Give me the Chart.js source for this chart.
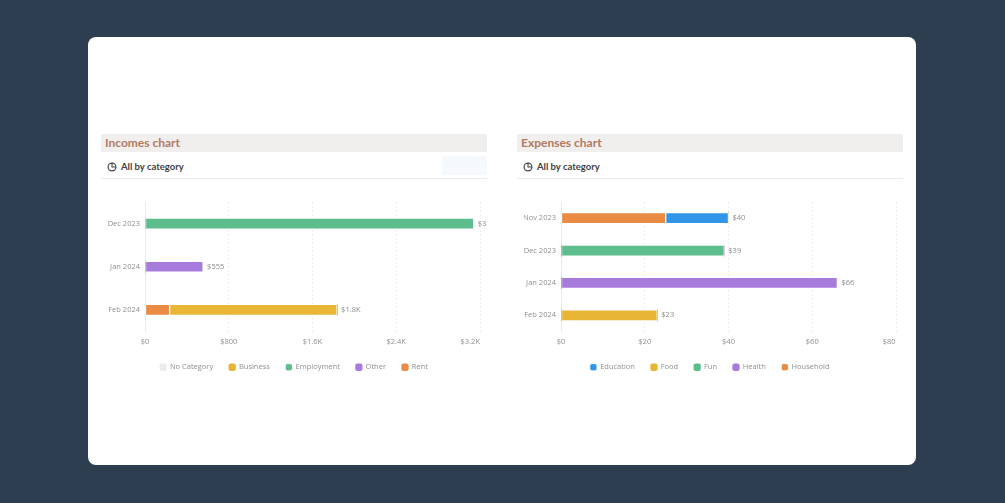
<!DOCTYPE html>
<html>
<head>
<meta charset="utf-8">
<script src="https://cdn.jsdelivr.net/npm/chart.js@4/dist/chart.umd.min.js"></script>
<style>
  body { margin: 0; width: 1005px; height: 503px; background: #2d3e50; overflow: hidden; font-family: "Open Sans", sans-serif; }
  .card { position: absolute; left: 88px; top: 37px; width: 828px; height: 428px; background: #fff; border-radius: 8px; }
  .panel { position: absolute; top: 134px; width: 386px; }
  .head { height: 18px; line-height: 18px; background: #f0efed; color: #b27a63; font-family: Lato, sans-serif; font-weight: 700; font-size: 12px; padding-left: 4px; }
  .sub { height: 23px; padding-top: 3px; border-bottom: 1px solid #ececec; display: flex; align-items: center; padding-left: 6px; font-family: Lato, sans-serif; font-size: 9.5px; font-weight: 700; color: #3f3f3f; }
  .sub svg { margin-right: 4px; }
  .ghost { position: absolute; right: 0; top: 22px; width: 45px; height: 19px; background: #f5f8fd; border-radius: 3px; }
  .chart { position: absolute; top: 191px; width: 386px; height: 190px; }
</style>
</head>
<body>
<div class="card"></div>

<div class="panel" style="left:101px">
  <div class="head">Incomes chart</div>
  <div class="sub">
    <svg width="10" height="10" viewBox="0 0 11 11"><circle cx="5.5" cy="5.5" r="4.3" fill="none" stroke="#444" stroke-width="1.3"/><path d="M5.5 1.5 V5.5 H9.5" fill="none" stroke="#444" stroke-width="1.2"/></svg>
    All by category
  </div>
  <div class="ghost"></div>
</div>
<div class="panel" style="left:517px">
  <div class="head">Expenses chart</div>
  <div class="sub">
    <svg width="10" height="10" viewBox="0 0 11 11"><circle cx="5.5" cy="5.5" r="4.3" fill="none" stroke="#444" stroke-width="1.3"/><path d="M5.5 1.5 V5.5 H9.5" fill="none" stroke="#444" stroke-width="1.2"/></svg>
    All by category
  </div>
</div>

<div class="chart" style="left:101px"><canvas id="incomes"></canvas></div>
<div class="chart" style="left:517px"><canvas id="expenses"></canvas></div>

<script>
// incomes by month
const incomeMonths = ['Dec 2023', 'Jan 2024', 'Feb 2024'];
const incomeNoCategory = [0, 0, 0];
const incomeBusiness = [0, 0, 1600];
const incomeEmployment = [3140, 0, 0];
const incomeOther = [0, 555, 0];
const incomeRent = [0, 0, 235];
const incomeTicks = [0, 800, 1600, 2400, 3200];

// expenses by month
const expenseMonths = ['Nov 2023', 'Dec 2023', 'Jan 2024', 'Feb 2024'];
const expenseEducation = [15, 0, 0, 0];
const expenseFood = [0, 0, 0, 23];
const expenseFun = [0, 39, 0, 0];
const expenseHealth = [0, 0, 66, 0];
const expenseHousehold = [25, 0, 0, 0];
const expenseTicks = [0, 20, 40, 60, 80];

const COLORS = {
  none: '#ececec', yellow: '#e8b535', green: '#5dbd8c',
  purple: '#a77bdc', orange: '#e98b43', blue: '#3196e8',
};
const FONT = { family: 'Open Sans', size: 7.5 };

const measure = document.createElement('canvas').getContext('2d');
measure.font = '7.5px "Open Sans"';

function money(v) {
  if (v >= 1000) return '$' + (v / 1000).toFixed(1) + 'K';
  return '$' + Math.round(v);
}

function ds(label, data, color, order) {
  return {
    label, data, order,
    backgroundColor: color,
    borderColor: '#fff',
    borderWidth: (ctx) => (ctx.raw ? 1 : 0),
    borderSkipped: false,
    barThickness: 11,
  };
}

// total at the end of each stacked bar
const totalsPlugin = {
  id: 'totals',
  afterDatasetsDraw(chart) {
    const { ctx } = chart;
    const n = chart.data.labels.length;
    ctx.save();
    ctx.font = '7.5px "Open Sans"';
    ctx.fillStyle = '#8a8a8a';
    ctx.textBaseline = 'middle';
    for (let i = 0; i < n; i++) {
      let total = 0, end = null, y = 0;
      chart.data.datasets.forEach((d, di) => {
        const v = d.data[i];
        if (!v) return;
        total += v;
        const el = chart.getDatasetMeta(di).data[i];
        if (end === null || el.x > end) { end = el.x; y = el.y; }
      });
      if (end !== null) ctx.fillText(money(total), end + 4, y);
    }
    ctx.restore();
  },
};

function build(canvas, labels, datasets, ticks) {
  const last = ticks[ticks.length - 1];
  return new Chart(canvas, {
    type: 'bar',
    data: { labels, datasets },
    plugins: [totalsPlugin],
    options: {
      indexAxis: 'y',
      responsive: true, maintainAspectRatio: false,
      animation: false,
      events: [],
      layout: { padding: { top: 11, right: 7, bottom: 0, left: 7 } },
      plugins: {
        tooltip: { enabled: false },
        legend: {
          position: 'bottom',
          labels: {
            usePointStyle: true, pointStyle: 'rectRounded',
            boxWidth: 6, boxHeight: 6, padding: 16,
            color: '#8f8f8f', font: FONT,
            sort: (a, b) => a.datasetIndex - b.datasetIndex,
          },
        },
      },
      scales: {
        x: {
          stacked: true, min: ticks[0], max: last,
          afterBuildTicks: (s) => { s.ticks = ticks.map((v) => ({ value: v })); },
          afterFit: (s) => { s.height = 16; s.paddingRight = 0; },
          grid: { color: '#ededed', drawTicks: false },
          border: { display: false, dash: [2, 2] },
          ticks: {
            color: '#8f8f8f', font: FONT, padding: 6,
            callback: (v) => {
              const t = money(v);
              if (v !== last) return t;
              // keep the last label inside the plot, ending on its grid line
              const n = Math.round(measure.measureText(t).width / measure.measureText(' ').width);
              return t + ' '.repeat(n);
            },
          },
        },
        y: {
          stacked: true,
          afterFit: (s) => { s.width = 37; },
          grid: { display: false, drawTicks: false },
          border: { display: true, color: '#ececec' },
          ticks: { color: '#8f8f8f', font: FONT, padding: 5 },
        },
      },
    },
  });
}

build(document.getElementById('incomes'), incomeMonths, [
  ds('No Category', incomeNoCategory, COLORS.none, 1),
  ds('Business', incomeBusiness, COLORS.yellow, 1),
  ds('Employment', incomeEmployment, COLORS.green, 1),
  ds('Other', incomeOther, COLORS.purple, 1),
  ds('Rent', incomeRent, COLORS.orange, 0),
], incomeTicks);

build(document.getElementById('expenses'), expenseMonths, [
  ds('Education', expenseEducation, COLORS.blue, 1),
  ds('Food', expenseFood, COLORS.yellow, 1),
  ds('Fun', expenseFun, COLORS.green, 1),
  ds('Health', expenseHealth, COLORS.purple, 1),
  ds('Household', expenseHousehold, COLORS.orange, 0),
], expenseTicks);
</script>
</body>
</html>
